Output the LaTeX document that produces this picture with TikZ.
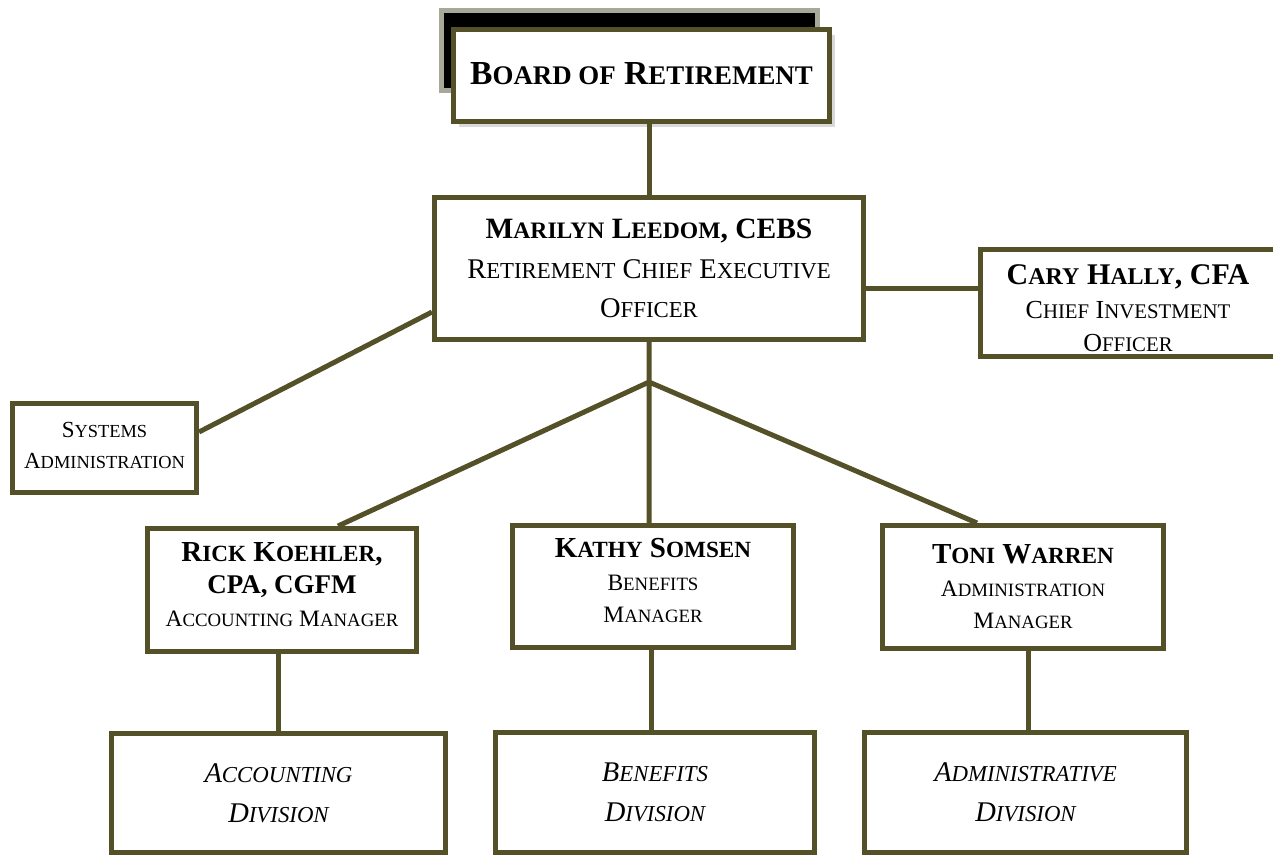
\documentclass[tikz,border=0pt]{standalone}
\usepackage{fontspec}
\setmainfont{Liberation Serif}
\usepackage{graphicx}
\usetikzlibrary{calc,shadows}

\definecolor{frame}{HTML}{545028}
\definecolor{plategray}{HTML}{A8A898}
\newcommand\smallcp[1]{\scalebox{0.8}{#1}}
\newcommand\namefont{\bfseries\fontsize{29}{32.5}\selectfont}
\newcommand\lift[1]{\rule[-#1]{0pt}{#1}}
\newcommand\drop[1]{\rule{0pt}{#1}}

\begin{document}
\begin{tikzpicture}[x=1pt,y=-1pt,
  office/.style={draw=frame,line width=5pt,fill=white,inner sep=0pt,align=center,
    font=\fontsize{23.5}{32.5}\selectfont},
  division/.style={office,font=\itshape\fontsize{28.5}{40}\selectfont},
  wire/.style={draw=frame,line width=5pt}]
\useasboundingbox (0,0) rectangle (1273,855);
\clip (0,0) rectangle (1273,855);

% board of retirement with its backing plate
\node[draw=plategray,fill=black,line width=5pt,minimum width=376pt,minimum height=80pt] (plate) at (629.5,50.5) {};
\node[office,minimum width=376pt,minimum height=92pt,
  drop shadow={opacity=0.3,shadow xshift=5pt,shadow yshift=-5pt},
  font=\bfseries\fontsize{33.6}{40}\selectfont] (board) at (641.5,75.5) {B\smallcp{OARD OF} R\smallcp{ETIREMENT}\lift{5pt}};

% executive level
\node[office,minimum width=429pt,minimum height=142pt,font=\fontsize{28.5}{39.5}\selectfont] (ceo) at (649,268.5)
  {{\bfseries\fontsize{29.5}{39.5}\selectfont M\smallcp{ARILYN} L\smallcp{EEDOM}, CEBS}\\
   R\smallcp{ETIREMENT} C\smallcp{HIEF} E\smallcp{XECUTIVE}\\ O\smallcp{FFICER}};
\node[office,minimum width=295pt,minimum height=107pt,font=\fontsize{26}{33.5}\selectfont] (cary) at (1128,303)
  {{\bfseries\fontsize{30}{33.5}\selectfont\drop{31pt}C\smallcp{ARY} H\smallcp{ALLY}, CFA}\\ C\smallcp{HIEF} I\smallcp{NVESTMENT}\\ O\smallcp{FFICER}};
\node[office,minimum width=184pt,minimum height=89pt,font=\fontsize{23}{31}\selectfont] (sys) at (104.5,448)
  {S\smallcp{YSTEMS}\\ A\smallcp{DMINISTRATION}\lift{6pt}};

% managers
\node[office,minimum width=269pt,minimum height=123pt] (rick) at (282,590)
  {{\namefont R\smallcp{ICK} K\smallcp{OEHLER},}\\ {\bfseries\fontsize{27}{32.5}\selectfont CPA, CGFM}\\
   A\smallcp{CCOUNTING} M\smallcp{ANAGER}\lift{12pt}};
\node[office,minimum width=281pt,minimum height=122pt] (kathy) at (653,586.5)
  {{\namefont K\smallcp{ATHY} S\smallcp{OMSEN}}\\ B\smallcp{ENEFITS}\\ M\smallcp{ANAGER}\lift{12pt}};
\node[office,minimum width=281pt,minimum height=123pt] (toni) at (1023,587)
  {{\namefont T\smallcp{ONI} W\smallcp{ARREN}}\\ A\smallcp{DMINISTRATION}\\ M\smallcp{ANAGER}};

% divisions
\node[division,minimum width=334pt,minimum height=119pt] (acct) at (278.5,793)
  {A\smallcp{CCOUNTING}\\ D\smallcp{IVISION}};
\node[division,minimum width=319pt,minimum height=120pt] (benf) at (655,792.5)
  {B\smallcp{ENEFITS}\\ D\smallcp{IVISION}};
\node[division,minimum width=322pt,minimum height=120pt] (admn) at (1025.5,792.5)
  {A\smallcp{DMINISTRATIVE}\\ D\smallcp{IVISION}};

% connectors
\draw[wire] (ceo.north) -- (ceo.north |- board.south);
\coordinate (cio) at ($(ceo.east)+(0,20)$);
\draw[wire] (cio) -- (cio -| cary.west);
\draw[wire] ($(sys.east)+(0,-16)$) -- ($(ceo.west)+(0,43.5)$);
\coordinate (split) at ($(ceo.south)+(0,40)$);
\draw[wire,line join=round] (ceo.south) -- (split) -- ($(rick.north)+(56,0)$);
\draw[wire,line join=round] (split |- kathy.north) -- (split) -- ($(toni.north)+(-46,0)$);
\draw[wire] (acct.north) -- (acct.north |- rick.south);
\draw[wire] ($(kathy.south)+(-2,0)$) coordinate (kb) -- (kb |- benf.north);
\draw[wire] ($(admn.north)+(2.5,0)$) coordinate (ab) -- (ab |- toni.south);
\end{tikzpicture}
\end{document}
